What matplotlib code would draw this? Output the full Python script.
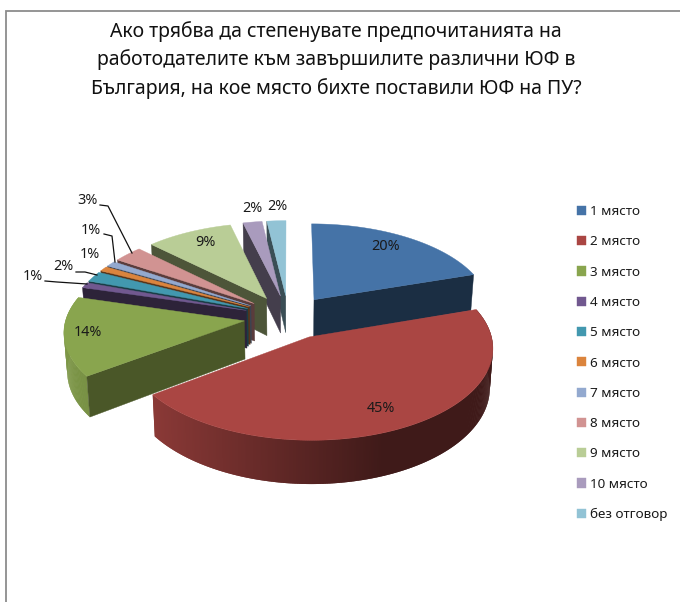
import numpy as np
import matplotlib
matplotlib.use("Agg")
import matplotlib.pyplot as plt
from matplotlib.patches import Patch
from matplotlib.colors import to_rgb

categories = ["1 място", "2 място", "3 място", "4 място", "5 място", "6 място",
              "7 място", "8 място", "9 място", "10 място", "без отговор"]
values = [20, 45, 14.4, 1.0, 1.9, 0.9, 1.0, 3.0, 8.9, 1.95, 1.95]
colors = ["#4573A7", "#AA4643", "#89A54E", "#71588F", "#4298AF", "#DB843D",
          "#93A9CF", "#D19392", "#B9CD96", "#A99BBD", "#92C3D5"]
side_colors = ["#1B2E43", "#441C1B", "#4A5728", "#2D2339", "#1A3D46", "#58351A",
               "#3B4452", "#5A3C3C", "#4D5539", "#443E4C", "#3A4E55"]
title_lines = "Ако трябва да степенувате предпочитанията на\nработодателите към завършилите различни ЮФ в\nБългария, на кое място бихте поставили ЮФ на ПУ?"

FONT = "Noto Sans"
W, H = 680, 602
CX, CY = 288.4, 317.0
A, B, K = 178.0, 87.5, 0.108
EXPLODE = 0.25
DEPTH = 38.0


def project(u, v, bottom=False):
    w = 1 + K * v
    sx = 0.985 if bottom else 1.0
    x = CX + sx * A * u / w
    y = CY - B * v / w + (DEPTH / w if bottom else 0)
    return x, y


def slice_uv(start, end, bis, n):
    th = np.radians(np.linspace(start, end, n))
    b = np.radians(bis)
    return EXPLODE * np.sin(b) + np.sin(th), EXPLODE * np.cos(b) + np.cos(th), EXPLODE * np.sin(b), EXPLODE * np.cos(b)


fig = plt.figure(figsize=(W / 100, H / 100), dpi=100)
ax = fig.add_axes([0, 0, 1, 1])
ax.set_xlim(0, W)
ax.set_ylim(H, 0)
ax.axis("off")

ax.plot([6, 6, W], [H, 11, 11], color="#8c8c8c", lw=1.3, solid_joinstyle="miter")

edges = np.concatenate([[0], np.cumsum(values)]) * 3.6
draw_order = [10, 9, 8, 7, 6, 5, 4, 3, 2, 0, 1]
for z, i in enumerate(draw_order):
    st, en = edges[i], edges[i + 1]
    bis = (st + en) / 2
    n = max(int((en - st) * 2) + 2, 4)
    us, vs, u0, v0 = slice_uv(st, en, bis, n)
    base = np.array(to_rgb(colors[i]))
    # curved rim: overlapping strips, painted so that no seams show
    if i in (1, 2):
        xt, yt = project(us, vs)
        xb, yb = project(us, vs, True)
        ths = np.linspace(st, en, n)
        order = range(n - 1) if i == 1 else range(n - 2, -1, -1)
        for j in order:
            if i == 1:
                f = np.clip(0.82 - (xt[j] - 150) * 0.45 / 235, 0.37, 0.82)
            else:
                f = np.clip(0.88 + (ths[j] - 234) * 0.002, 0.37, 1.0)
            c = base * f
            e = min(j + 3, n)
            ax.fill(np.r_[xt[j:e], xb[j:e][::-1]], np.r_[yt[j:e], yb[j:e][::-1]],
                    facecolor=c, edgecolor="none", zorder=z * 3 + 1)
    # straight cut side
    ax0, ay0 = project(u0, v0)
    bx0, by0 = project(u0, v0, True)
    if i != 1:
        k = -1 if i == 0 else 0
        ax1, ay1 = project(us[k], vs[k])
        bx1, by1 = project(us[k], vs[k], True)
        ax.fill([ax0, ax1, bx1, bx0], [ay0, ay1, by1, by0], facecolor=side_colors[i],
                edgecolor=side_colors[i], lw=0.3, zorder=z * 3 + 2)
    # top face
    xt, yt = project(us, vs)
    ax.fill(np.r_[ax0, xt], np.r_[ay0, yt], facecolor=colors[i], edgecolor=colors[i],
            lw=0.3, zorder=z * 3 + 3)

labels = [f"{round(v)}%" for v in values]
label_pos = [(386, 247), (381, 409), (88, 333), (33, 277), (63, 267), (90, 255),
             (91, 230), (87, 200), (205, 242), (252, 208), (277, 207)]
for t, (x, y) in zip(labels, label_pos):
    ax.text(x, y, t, ha="center", va="center", fontsize=10.4, family=FONT, color="#1a1a1a", zorder=100)

leaders = [[(45, 281), (57, 282), (87, 284)], [(76, 272), (85, 272), (97, 275)],
           [(104, 234), (112, 236), (115, 262)], [(100, 205), (108, 206), (132, 253)]]
for pts in leaders:
    ax.plot(*zip(*pts), color="#111111", lw=0.9, zorder=90)

ax.text(336, 60, title_lines, ha="center", va="center", fontsize=14, family=FONT,
        linespacing=1.45, color="#111111", zorder=100)

handles = [Patch(facecolor=c, edgecolor=c, lw=0.3) for c in colors]
leg = ax.legend(handles, categories, loc="upper left", bbox_to_anchor=(577 / W, 1 - 205 / H),
                bbox_transform=fig.transFigure, frameon=False, prop={"family": FONT, "size": 9.7},
                handlelength=0.68, handleheight=0.68, handletextpad=0.3, labelspacing=1.285,
                borderpad=0, borderaxespad=0)
for t in leg.get_texts():
    t.set_color("#1a1a1a")

fig.savefig("out.png", dpi=100)
